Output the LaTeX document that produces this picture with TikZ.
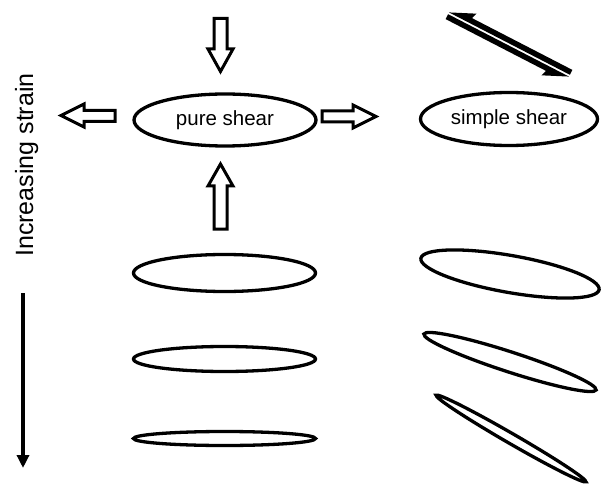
\documentclass[tikz,border=0pt]{standalone}
\usepackage{fontspec}
\setmainfont{Liberation Sans}
\usetikzlibrary{shapes.geometric,arrows.meta}
\tikzset{
  strainell/.style={draw, line width=3.3pt},
  blockarrow/.style={draw, line width=3pt, fill=white, line join=miter, miter limit=20},
  label ell/.style={draw, ellipse, line width=3.3pt, inner sep=0pt, font=\fontsize{20.5}{24}\selectfont},
  shearbar/.style={fill=black},
}
\begin{document}
\begin{tikzpicture}[x=1pt,y=-1pt]
\useasboundingbox (0,0) rectangle (602,489);

% labelled ellipses
\node[label ell, minimum width=182pt, minimum height=52pt] (pure) at (225,120) {pure shear};
\node[label ell, minimum width=177pt, minimum height=53pt] (simple) at (509,119) {simple shear};

% block arrows around pure shear
\draw[blockarrow] (214,18.5) -- (227,18.5) -- (227,49) -- (233,49) -- (220.5,71.5) -- (208,49) -- (214,49) -- cycle;
\draw[blockarrow] (214,229) -- (227,229) -- (227,186) -- (233,186) -- (220.5,164) -- (208,186) -- (214,186) -- cycle;
\draw[blockarrow] (115,110.5) -- (115,121.5) -- (84,121.5) -- (84,127) -- (61,115.5) -- (84,104) -- (84,110.5) -- cycle;
\draw[blockarrow] (322,111) -- (322,122) -- (353,122) -- (353,128) -- (376,116.5) -- (353,105) -- (353,111) -- cycle;

% shear arrows
\begin{scope}[shift={(509,44.5)}, rotate=-27.3, x=1pt, y=1pt]
  \fill[shearbar] (-68,1) -- (-43,12.5) -- (-45,6.5) -- (68,6.5) -- (68,1) -- cycle;
  \fill[shearbar] (68,-1) -- (43,-12.5) -- (45,-6.5) -- (-68,-6.5) -- (-68,-1) -- cycle;
\end{scope}

% strain label and arrow
\node[rotate=90, anchor=base, font=\fontsize{25}{30}\selectfont, inner sep=0pt] (strain) at (33,165) {Increasing strain};
\coordinate (sa) at (23,293);
\coordinate (sb) at (23,468);
\draw[line width=4.5pt, -{Triangle[length=13pt,width=12pt]}] (sa) -- (sb);

% pure shear sequence
\draw[strainell] (224.5,273) ellipse [x radius=91, y radius=18.5];
\draw[strainell] (224.5,359) ellipse [x radius=91, y radius=12.5];
\draw[strainell] (224.5,438.5) ellipse [x radius=91, y radius=7];

% simple shear sequence
\draw[strainell] (510,274) ellipse [x radius=90.5, y radius=18.5, rotate=-10];
\draw[strainell] (510,362) ellipse [x radius=90.5, y radius=10, rotate=-18];
\draw[strainell] (511,438.5) ellipse [x radius=86.5, y radius=5, rotate=-30];
\end{tikzpicture}
\end{document}
